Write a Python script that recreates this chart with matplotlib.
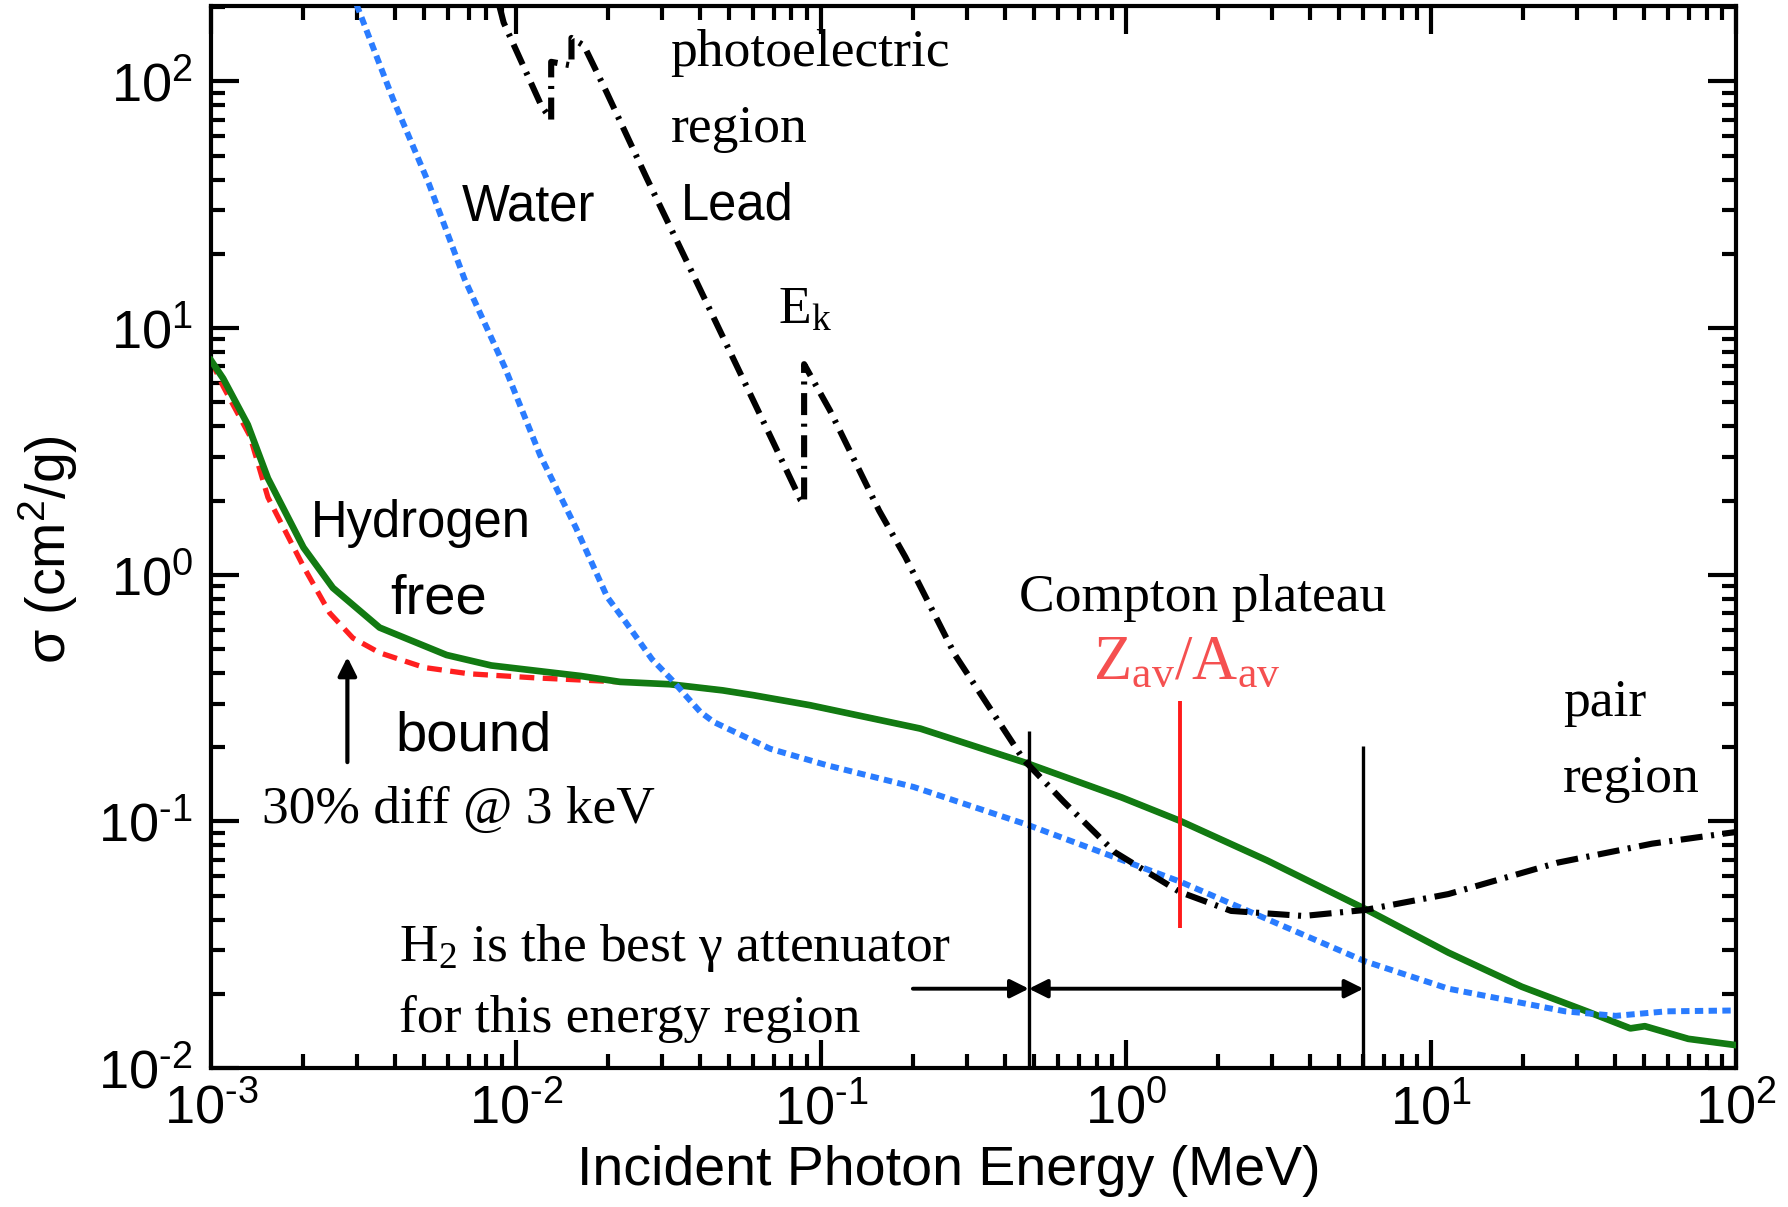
import numpy as np
import matplotlib
matplotlib.use("Agg")
import matplotlib.pyplot as plt
from matplotlib.ticker import LogLocator, NullFormatter, FuncFormatter

plt.rcParams.update({
    "font.family": "Liberation Sans",
    "mathtext.default": "regular",
    "axes.unicode_minus": False,
})
SERIF = "Liberation Serif"

GREEN, RED, BLUE, ZRED = "#127a12", "#ff1f1f", "#2a7cff", "#f55050"

# mass attenuation, energy in MeV, sigma in cm^2/g
h_free_e = [1e-3, 1.096e-3, 1.32e-3, 1.537e-3, 2.01e-3, 2.51e-3, 3.57e-3, 5.92e-3,
            8.29e-3, 0.01626, 0.02195, 0.0319, 0.0476, 0.060, 0.092, 0.2115, 0.462,
            0.970, 1.50, 2.90, 6.08, 11.4, 19.8, 32.4, 45.0, 50.2, 69.7, 100.0]
h_free_s = [7.4, 6.25, 4.06, 2.46, 1.29, 0.885, 0.611, 0.473,
            0.429, 0.389, 0.368, 0.360, 0.340, 0.325, 0.296, 0.238, 0.174,
            0.125, 0.1007, 0.0695, 0.0442, 0.0294, 0.0214, 0.0170, 0.0145, 0.0148,
            0.01315, 0.0124]

h_bound_e = [1e-3, 1.096e-3, 1.342e-3, 1.537e-3, 2.01e-3, 2.45e-3, 2.92e-3, 3.57e-3,
             5.0e-3, 7.0e-3, 0.0116] + h_free_e[10:]
h_bound_s = [7.4, 5.81, 3.65, 2.06, 1.08, 0.700, 0.554, 0.483,
             0.421, 0.397, 0.382] + h_free_s[10:]

water_e = [3.0e-3, 3.95e-3, 5.17e-3, 6.78e-3, 9.18e-3, 0.0120, 0.01574, 0.0199,
           0.0228, 0.0279, 0.0325, 0.0363, 0.0402, 0.0445, 0.0682, 0.1046, 0.2012,
           0.477, 1.50, 6.08, 11.4, 27.5, 40.3, 59.1, 100.0]
water_s = [205, 84.9, 38.7, 15.8, 6.95, 3.05, 1.545, 0.813,
           0.647, 0.455, 0.374, 0.320, 0.278, 0.253, 0.197, 0.169, 0.138,
           0.0968, 0.0571, 0.0271, 0.0210, 0.0170, 0.0163, 0.0170, 0.01714]

lead_e = [8.8e-3, 9.11e-3, 0.01213, 0.01304, 0.01304, 0.0152, 0.0152, 0.0167,
          0.0198, 0.0268, 0.0376, 0.0526, 0.0689, 0.0857, 0.088, 0.088, 0.107,
          0.155, 0.189, 0.275, 0.462, 0.6254, 0.918, 1.50, 2.21, 3.82, 6.08,
          11.4, 26.0, 53.0, 100.0]
lead_s = [204, 173, 79.3, 70, 120, 116, 150, 139.6,
          90.5, 40.6, 17.0, 7.14, 3.55, 2.01, 1.95, 7.14, 4.63,
          1.82, 1.18, 0.473, 0.1777, 0.120, 0.0751, 0.0518, 0.0434, 0.0414, 0.0438,
          0.0508, 0.0681, 0.0813, 0.0907]

# Compton plateau markers
plateau_e = [0.48, 6.0]
plateau_top = [0.232, 0.202]
zav_e, zav_lo, zav_hi = 1.5, 0.0371, 0.308
arrow_y = 0.021
arrow_from = 0.2
diff_e, diff_lo, diff_hi = 2.8e-3, 0.174, 0.464

fig = plt.figure(figsize=(17.88, 12.07), dpi=100)
ax = fig.add_axes([0.118, 0.115, 0.853, 0.880])
ax.set_xscale("log")
ax.set_yscale("log")
ax.set_xlim(1e-3, 1e2)
ax.set_ylim(1e-2, 2.02e2)

ax.plot(h_bound_e, h_bound_s, color=RED, lw=3.8, ls=(0, (2.8, 1.6)), zorder=2)
ax.plot(h_free_e, h_free_s, color=GREEN, lw=4.8, zorder=3)
ax.plot(water_e, water_s, color=BLUE, lw=4.3, ls=(0, (1.4, 0.9)), zorder=4)
ax.plot(lead_e, lead_s, color="k", lw=4.4, ls=(0, (3.6, 1.4, 0.5, 1.4)), zorder=5)

ax.vlines(plateau_e, 1e-2, plateau_top, color="k", lw=2.4, zorder=6)
ax.vlines(zav_e, zav_lo, zav_hi, color="#ff1a1a", lw=2.8, zorder=6)

ax.annotate("", xy=(plateau_e[0], arrow_y), xytext=(arrow_from, arrow_y),
            arrowprops=dict(arrowstyle="-|>", lw=2.8, color="k", mutation_scale=28,
                            shrinkA=0, shrinkB=0))
ax.annotate("", xy=(plateau_e[1], arrow_y), xytext=(plateau_e[0], arrow_y),
            arrowprops=dict(arrowstyle="<|-|>", lw=2.8, color="k", mutation_scale=28,
                            shrinkA=0, shrinkB=0))
ax.annotate("", xy=(diff_e, diff_hi), xytext=(diff_e, diff_lo),
            arrowprops=dict(arrowstyle="-|>", lw=3, color="k", mutation_scale=28,
                            shrinkA=0, shrinkB=0))

# labels
ax.text(0.0321, 130, "photoelectric", family=SERIF, fontsize=38.5, va="center")
ax.text(0.0321, 64.2, "region", family=SERIF, fontsize=38.5, va="center")
ax.text(6.65e-3, 31.1, "Water", fontsize=36.5, va="center")
ax.text(0.0348, 31.3, "Lead", fontsize=36.5, va="center")
ax.text(0.0723, 11.7, "E$_{k}$", family=SERIF, fontsize=38.5, va="center")
ax.text(2.13e-3, 1.61, "Hydrogen", fontsize=36.5, va="center")
ax.text(3.87e-3, 0.795, "free", fontsize=40.5, va="center")
ax.text(4.03e-3, 0.222, "bound", fontsize=40.5, va="center")
ax.text(1.47e-3, 0.111, "30% diff @ 3 keV", family=SERIF, fontsize=38.5, va="center")
ax.text(0.445, 0.805, "Compton plateau", family=SERIF, fontsize=38.5, va="center")
ax.text(0.778, 0.435, "Z$_{av}$/A$_{av}$", family=SERIF, fontsize=45, va="center",
        color=ZRED)
ax.text(27, 0.302, "pair", family=SERIF, fontsize=38.5, va="center")
ax.text(27, 0.148, "region", family=SERIF, fontsize=38.5, va="center")
ax.text(4.14e-3, 0.0307, "H$_{2}$ is the best \u03b3 attenuator", family=SERIF,
        fontsize=38.5, va="center")
ax.text(4.14e-3, 0.0158, "for this energy region", family=SERIF, fontsize=38.5,
        va="center")

ax.set_xlabel("Incident Photon Energy (MeV)", fontsize=40)
ax.set_ylabel("\u03c3 (cm$^{2}$/g)", fontsize=40)
ax.xaxis.set_label_coords(0.484, -0.072)
ax.yaxis.set_label_coords(-0.086, 0.488)


def decade(v, pos):
    e = int(round(np.log10(v)))
    return "10$^{%s}$" % str(e).replace("-", "\u2010")


for axis in (ax.xaxis, ax.yaxis):
    axis.set_major_locator(LogLocator(base=10, numticks=20))
    axis.set_minor_locator(LogLocator(base=10, subs=range(2, 10), numticks=20))
    axis.set_major_formatter(FuncFormatter(decade))
    axis.set_minor_formatter(NullFormatter())
ax.tick_params(which="both", direction="in", top=True, right=True, width=3)
ax.tick_params(which="major", length=20, labelsize=39)
ax.tick_params(which="minor", length=10)
ax.tick_params(axis="x", pad=11)
ax.tick_params(axis="y", pad=13)
for s in ax.spines.values():
    s.set_linewidth(3)

fig.savefig("out.png", dpi=100)
